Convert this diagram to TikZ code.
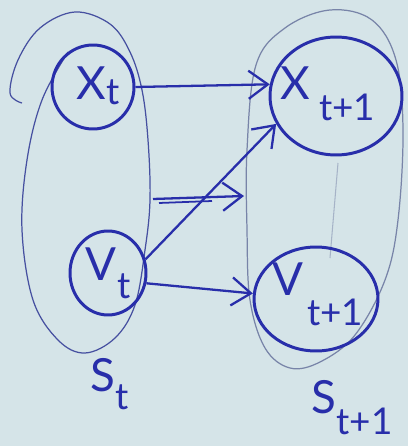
\documentclass[tikz,border=0pt]{standalone}
\usepackage{fontspec}
\setmainfont{Lato}
\usetikzlibrary{shapes.geometric,arrows.meta,calc}
\definecolor{paper}{RGB}{213,228,232}
\definecolor{ink}{RGB}{40,46,170}
\definecolor{pencil}{RGB}{70,80,160}
\definecolor{faint}{RGB}{120,132,168}
\newcommand{\hwl}[4]{{\fontsize{26}{26}\selectfont #1}\kern#3\raisebox{#4}{\fontsize{21}{21}\selectfont #2}}
\tikzset{
  var/.style={ellipse, draw=ink, line width=1.7pt, inner sep=0pt},
  lbl/.style={text=ink, inner sep=0pt},
  arr/.style={draw=ink, line width=1.3pt, -{Straight Barb[length=11pt,width=16pt,line width=1.3pt]}},
  group/.style={draw=pencil, line width=0.7pt},
  groupb/.style={draw=faint, line width=0.7pt}
}
\begin{document}
\begin{tikzpicture}[x=0.02cm,y=-0.02cm]
\fill[paper] (0,0) rectangle (408,446);
\useasboundingbox (0,0) rectangle (408,446);
% group outlines
\draw[group] plot[smooth, tension=0.6] coordinates {(68,52) (42,100) (27,160) (22,230) (33,300) (58,340) (85,353) (115,338) (135,305) (145,250) (150,200) (148,140) (142,90) (130,52) (110,24) (75,12) (40,28) (18,60) (10,93) (22,103)};
\draw[groupb] plot[smooth cycle, tension=0.6] coordinates {(247,230) (247,150) (256,65) (285,28) (330,10) (372,20) (396,60) (403,130) (398,220) (385,280) (355,335) (320,362) (290,368) (265,348) (250,300)};
\draw[faint, line width=0.6pt, opacity=0.5] (338,163) -- (330,258);
% variables
\node[var, minimum width=1.64cm, minimum height=1.68cm] (xt) at (93,87) {};
\node[var, minimum width=2.64cm, minimum height=2.36cm] (xt1) at (336,96) {};
\node[var, minimum width=1.52cm, minimum height=1.68cm] (vt) at (108,273) {};
\node[var, minimum width=2.48cm, minimum height=2.08cm] (vt1) at (316,299) {};
% labels
\node[lbl] (lxt) at (98,86) {\hwl{X}{t}{0pt}{-3pt}};
\node[lbl] (lxt1) at (328,94) {\hwl{X}{t+1}{5pt}{-12pt}};
\node[lbl] (lvt) at (108,273) {\hwl{V}{t}{0.5pt}{-10pt}};
\node[lbl] (lvt1) at (318,294) {\hwl{V}{t+1}{2pt}{-17pt}};
\node[lbl] (lst) at (110,384) {\hwl{S}{t}{0pt}{-10pt}};
\node[lbl] (lst1) at (352,408) {\hwl{S}{t+1}{0pt}{-12pt}};
% arrows
\draw[arr] (xt.0) -- (xt1.170);
\draw[arr] (vt.20) -- (xt1.205);
\draw[arr] (vt.-15) -- (vt1.175);
\coordinate (m1) at (153,199);
\coordinate (m2) at (244,196);
\draw[arr] (m1) -- (m2);
\draw[draw=ink, line width=1pt] ($(m1)+(6,4)$) -- ($(m2)+(-32,5)$);
\end{tikzpicture}
\end{document}
